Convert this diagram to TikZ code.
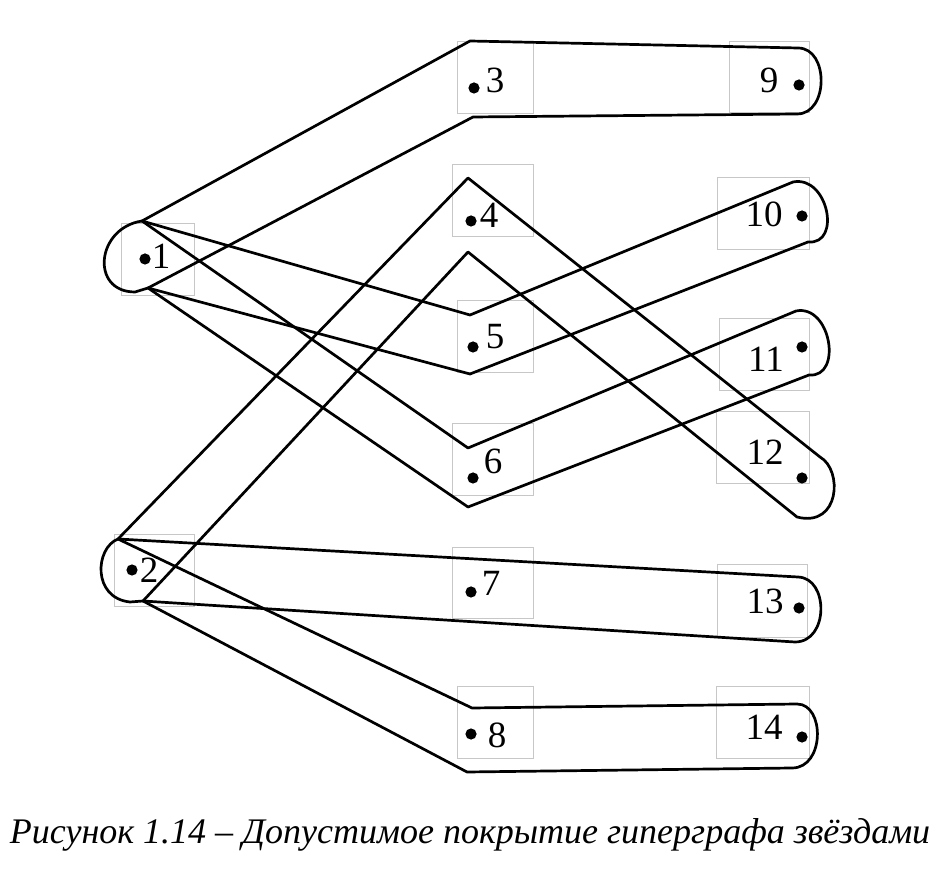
\documentclass[tikz,border=0pt]{standalone}
\usepackage{fontspec}
\setmainfont{Liberation Serif}
\usetikzlibrary{fit}
\begin{document}
\begin{tikzpicture}[x=0.5pt,y=-0.5pt,
  gbox/.style={draw=black!22, line width=0.4pt, inner sep=0pt, rectangle},
  hedge/.style={draw=black, line width=1.35pt, line join=round, line cap=round},
  lbl/.style={inner sep=0pt, font=\fontsize{18.5}{20}\selectfont},
  dotc/.style={fill=black}]
\useasboundingbox (0,0) rectangle (952,870);
% gray frames
\node[gbox, fit={(121,223) (194,295)}] (n1) {};
\node[gbox, fit={(114,534) (194,606)}] (n2) {};
\node[gbox, fit={(457,41) (533,113)}] (n3) {};
\node[gbox, fit={(452,164) (533,236)}] (n4) {};
\node[gbox, fit={(457,300) (533,372)}] (n5) {};
\node[gbox, fit={(452,423) (533,495)}] (n6) {};
\node[gbox, fit={(452,547) (533,618)}] (n7) {};
\node[gbox, fit={(457,686) (533,758)}] (n8) {};
\node[gbox, fit={(729,41) (809,112)}] (n9) {};
\node[gbox, fit={(717,177) (809,249)}] (n10) {};
\node[gbox, fit={(719,318) (809,390)}] (n11) {};
\node[gbox, fit={(716,411) (809,483)}] (n12) {};
\node[gbox, fit={(717,564) (807,637)}] (n13) {};
\node[gbox, fit={(716,686) (809,758)}] (n14) {};
% dots
\foreach \p in {(145,259),(132,570),(474,88),(471,221),(473,347),(473,478),(471,592),(471,734),(799,85),(802,216),(802,347),(802,478),(799,608),(802,737)}
  \fill[dotc] \p circle (2.8pt);
% labels
\node[lbl] (l1) at (161,256) {1};
\node[lbl] (l2) at (149,570) {2};
\node[lbl] (l3) at (495,80) {3};
\node[lbl] (l4) at (489,215) {4};
\node[lbl] (l5) at (495,337) {5};
\node[lbl] (l6) at (493,461) {6};
\node[lbl] (l7) at (491,583) {7};
\node[lbl] (l8) at (497,735) {8};
\node[lbl] (l9) at (769,80) {9};
\node[lbl] (l10) at (764,214) {10};
\node[lbl] (l11) at (766,359) {11};
\node[lbl] (l12) at (765,452) {12};
\node[lbl] (l13) at (765,601) {13};
\node[lbl] (l14) at (764,727) {14};
% attachment points of the stars
\coordinate (a1) at (142,221);
\coordinate (b1) at (148,288);
\coordinate (a2) at (118,539);
\coordinate (b2) at (143,601);
% left caps
\draw[hedge] (a1) .. controls (96,228) and (90,292) .. (135,292) -- (b1);
\draw[hedge] (a2) .. controls (95,548) and (92,598) .. (130,602) -- (b2);
% star {1,3,9}
\draw[hedge] (a1) -- (470,41) -- (798,48) .. controls (829,48) and (829,114) .. (797,114) -- (473,117) -- (b1);
% star {1,5,10}
\draw[hedge] (a1) -- (470,315) -- (793,182) .. controls (828,175) and (842,245) .. (808,242) -- (470,374) -- (b1);
% star {1,6,11}
\draw[hedge] (a1) -- (468,448) -- (796,311) .. controls (831,304) and (843,378) .. (809,375) -- (468,507) -- (b1);
% star {2,4,12}
\draw[hedge] (a2) -- (468,178) -- (820,457) .. controls (843,470) and (840,528) .. (797,517) -- (468,252) -- (b2);
% star {2,7,13}
\draw[hedge] (a2) -- (798,577) .. controls (829,578) and (829,642) .. (795,642) -- (b2);
% star {2,8,14}
\draw[hedge] (a2) -- (472,708) -- (797,704) .. controls (825,704) and (825,768) .. (792,768) -- (467,772) -- (b2);
% caption
\node[inner sep=0pt, anchor=base, font=\fontsize{18}{22}\itshape\selectfont] (cap) at (470,843) {Рисунок 1.14 – Допустимое покрытие гиперграфа звёздами};
\end{tikzpicture}
\end{document}
